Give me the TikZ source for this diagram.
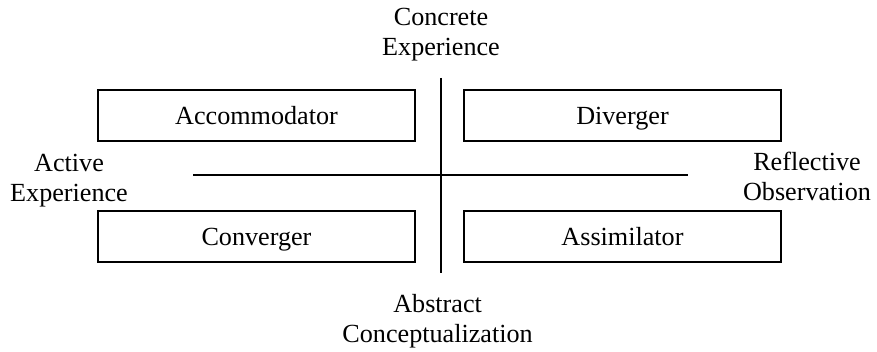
\documentclass[tikz,border=0pt]{standalone}
\usepackage{fontspec}
\setmainfont{Liberation Serif}
\usepackage{tikz}

\tikzset{
	quad/.style={draw=black, line width=1.3pt, minimum width=7.925cm, minimum height=1.275cm, inner sep=0pt, text height=12.8pt, text depth=0pt},
	pole/.style={align=center, inner sep=0pt}
}

\begin{document}
\begin{tikzpicture}[font=\fontsize{18.6}{21.3}\selectfont]
\useasboundingbox (0,0) rectangle (21.925,8.8);
\coordinate (up) at (11.025,6.85);
\coordinate (down) at (11.025,1.975);
\coordinate (left) at (4.825,4.425);
\coordinate (right) at (17.2,4.425);
\draw[black, line width=0.9pt](up)--(down);
\draw[black, line width=0.9pt](left)--(right);
\foreach \nm/\x/\y/\txt in {accom/6.4125/5.9125/Accommodator, diverg/15.5625/5.9125/Diverger, converg/6.4125/2.88/Converger, assim/15.5625/2.88/Assimilator}{
	\node[quad] (\nm) at (\x,\y) {\txt};
}
\node[pole] (concrete) at (11.025,7.925) {Concrete\\Experience};
\node[pole] (active) at (1.725,4.275) {Active\\Experience};
\node[pole] (reflect) at (20.175,4.4) {Reflective\\Observation};
\node[pole] (abstract) at (10.94,0.775) {Abstract\\Conceptualization};
\end{tikzpicture}
\end{document}
